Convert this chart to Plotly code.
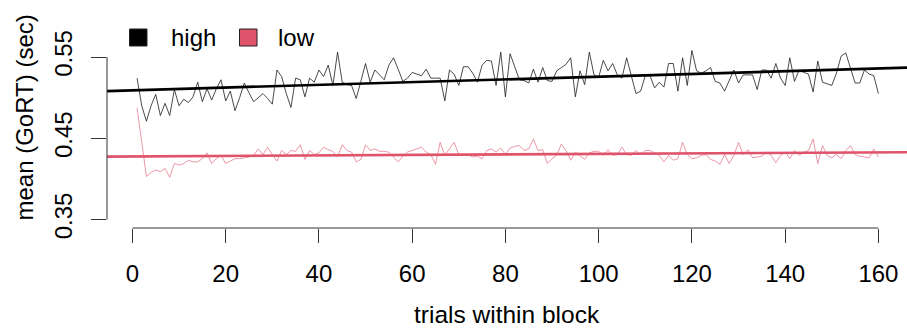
import plotly.graph_objects as go

# ---- data ----
trials = list(range(1, 161))

high_rt = [
    0.524, 0.490, 0.471, 0.490, 0.504, 0.478, 0.493, 0.478, 0.510, 0.490,
    0.498, 0.494, 0.501, 0.519, 0.495, 0.511, 0.497, 0.511, 0.522, 0.496,
    0.508, 0.484, 0.500, 0.518, 0.506, 0.495, 0.500, 0.505, 0.499, 0.492,
    0.534, 0.526, 0.505, 0.488, 0.524, 0.522, 0.501, 0.524, 0.519, 0.534,
    0.526, 0.540, 0.515, 0.556, 0.519, 0.516, 0.515, 0.499, 0.520, 0.542,
    0.519, 0.534, 0.528, 0.522, 0.540, 0.549, 0.535, 0.520, 0.524, 0.531,
    0.529, 0.527, 0.535, 0.524, 0.524, 0.524, 0.496, 0.534, 0.529, 0.515,
    0.538, 0.538, 0.530, 0.519, 0.540, 0.546, 0.545, 0.515, 0.556, 0.501,
    0.554, 0.538, 0.522, 0.521, 0.518, 0.535, 0.519, 0.537, 0.521, 0.520,
    0.533, 0.537, 0.541, 0.549, 0.501, 0.533, 0.516, 0.556, 0.528, 0.525,
    0.546, 0.533, 0.542, 0.528, 0.524, 0.549, 0.526, 0.505, 0.508, 0.527,
    0.527, 0.512, 0.519, 0.513, 0.542, 0.542, 0.508, 0.549, 0.515, 0.558,
    0.533, 0.530, 0.533, 0.537, 0.520, 0.518, 0.508, 0.520, 0.534, 0.518,
    0.528, 0.528, 0.528, 0.510, 0.534, 0.534, 0.524, 0.542, 0.524, 0.515,
    0.549, 0.520, 0.534, 0.531, 0.529, 0.507, 0.545, 0.519, 0.517, 0.515,
    0.530, 0.551, 0.555, 0.537, 0.518, 0.518, 0.534, 0.529, 0.527, 0.505,
]

low_rt = [
    0.4875, 0.445, 0.403, 0.408, 0.411, 0.409, 0.413, 0.402, 0.419, 0.417,
    0.419, 0.423, 0.421, 0.421, 0.425, 0.432, 0.419, 0.425, 0.429, 0.419,
    0.422, 0.425, 0.425, 0.426, 0.427, 0.429, 0.437, 0.430, 0.439, 0.430,
    0.422, 0.435, 0.430, 0.435, 0.434, 0.442, 0.424, 0.435, 0.430, 0.432,
    0.439, 0.436, 0.434, 0.427, 0.442, 0.435, 0.433, 0.421, 0.424, 0.442,
    0.435, 0.437, 0.434, 0.434, 0.433, 0.427, 0.421, 0.428, 0.433, 0.435,
    0.437, 0.439, 0.433, 0.430, 0.418, 0.445, 0.429, 0.437, 0.445, 0.430,
    0.430, 0.430, 0.427, 0.428, 0.425, 0.435, 0.437, 0.433, 0.438, 0.430,
    0.438, 0.440, 0.441, 0.435, 0.437, 0.449, 0.435, 0.436, 0.419, 0.425,
    0.429, 0.443, 0.435, 0.423, 0.433, 0.429, 0.424, 0.432, 0.434, 0.434,
    0.429, 0.436, 0.429, 0.430, 0.439, 0.430, 0.429, 0.435, 0.430, 0.435,
    0.435, 0.432, 0.429, 0.421, 0.429, 0.423, 0.425, 0.445, 0.430, 0.425,
    0.426, 0.429, 0.430, 0.424, 0.422, 0.418, 0.430, 0.419, 0.429, 0.445,
    0.430, 0.436, 0.426, 0.427, 0.428, 0.433, 0.429, 0.420, 0.429, 0.433,
    0.425, 0.435, 0.429, 0.433, 0.435, 0.449, 0.419, 0.441, 0.429, 0.426,
    0.430, 0.425, 0.435, 0.441, 0.430, 0.428, 0.427, 0.426, 0.437, 0.427,
]

# fitted trend lines (intercept, slope)
high_fit = (0.5090, 0.000168)
low_fit = (0.4277, 0.000031)

x_ticks = [0, 20, 40, 60, 80, 100, 120, 140, 160]
x_tick_labels = ["0", "20", "40", "60", "80", "100", "120", "140", "160"]
y_ticks = [0.35, 0.45, 0.55]
y_tick_labels = ["0.35", "0.45", "0.55"]

series_names = ["high", "low"]

# ---- style ----
FONT = "Liberation Sans, Arial, sans-serif"
BLACK = "#000000"
RED = "#DF536B"
W, H = 907, 329
ML, MR, MT, MB = 107, 0, 0, 101
PW, PH = W - ML - MR, H - MT - MB

x_range = [-5.45, -5.45 + PW / 4.6625]
y_lo = 0.35 - 8.4 / 813
y_range = [y_lo, y_lo + PH / 813]

fig = go.Figure()

fig.add_trace(go.Scatter(x=trials, y=high_rt, mode="lines", name="high",
                         line=dict(color="rgba(30,30,30,0.8)", width=1),
                         showlegend=False))
fig.add_trace(go.Scatter(x=trials, y=low_rt, mode="lines", name="low",
                         line=dict(color="rgba(232,125,145,0.8)", width=1),
                         showlegend=False))

fx = [x_range[0], x_range[1]]
fig.add_trace(go.Scatter(x=fx, y=[high_fit[0] + high_fit[1] * v for v in fx],
                         mode="lines", line=dict(color=BLACK, width=2.7),
                         showlegend=False, hoverinfo="skip"))
fig.add_trace(go.Scatter(x=fx, y=[low_fit[0] + low_fit[1] * v for v in fx],
                         mode="lines", line=dict(color=RED, width=2.7),
                         showlegend=False, hoverinfo="skip"))

shapes = []
# axis lines spanning first to last tick (R style)
shapes.append(dict(type="line", xref="x", yref="paper", x0=x_ticks[0], x1=x_ticks[-1],
                   y0=0, y1=0, line=dict(color="#333333", width=1)))
shapes.append(dict(type="line", xref="paper", yref="y", x0=0, x1=0,
                   y0=y_ticks[0], y1=y_ticks[-1], line=dict(color="#333333", width=1)))


def px_to_paper_x(px):
    return (px - ML) / PW


def px_to_paper_y(py):
    return (MT + PH - py) / PH


annotations = []
legend_items = [(series_names[0], BLACK, 129.5, 169), (series_names[1], RED, 239.5, 276)]
for name, col, sx, tx in legend_items:
    shapes.append(dict(type="rect", xref="paper", yref="paper",
                       x0=px_to_paper_x(sx), x1=px_to_paper_x(sx + 17.5),
                       y0=px_to_paper_y(46), y1=px_to_paper_y(29),
                       fillcolor=col, line=dict(color="#222222", width=1)))
    annotations.append(dict(text=name, xref="paper", yref="paper",
                            x=px_to_paper_x(tx), y=px_to_paper_y(37.5),
                            xanchor="left", yanchor="middle", showarrow=False,
                            font=dict(family=FONT, size=24, color="black")))

annotations.append(dict(text="trials within block", xref="paper", yref="paper",
                        x=0.5, y=0, yshift=-(314.5 - (MT + PH)), xanchor="center",
                        yanchor="middle", showarrow=False, borderpad=0,
                        font=dict(family=FONT, size=24.5, color="black")))
annotations.append(dict(text="mean (GoRT) (sec)", xref="paper", yref="paper",
                        x=0, xshift=24 - ML, y=px_to_paper_y(117.5), xanchor="center",
                        yanchor="middle", textangle=-90, showarrow=False,
                        font=dict(family=FONT, size=24, color="black")))

fig.update_layout(
    width=W, height=H,
    margin=dict(l=ML, r=MR, t=MT, b=MB, pad=0),
    paper_bgcolor="white", plot_bgcolor="white",
    font=dict(family=FONT, size=24, color="black"),
    showlegend=False,
    shapes=shapes,
    annotations=annotations,
    xaxis=dict(range=x_range, showgrid=False, zeroline=False, showline=False,
               tickmode="array", tickvals=x_ticks, ticktext=x_tick_labels,
               ticks="outside", ticklen=14, tickwidth=1, tickcolor="#333333",
               ticklabelstandoff=10,
               tickfont=dict(family=FONT, size=24, color="black")),
    yaxis=dict(range=y_range, showgrid=False, zeroline=False, showline=False,
               tickmode="array", tickvals=y_ticks, ticktext=y_tick_labels,
               ticks="outside", ticklen=15, tickwidth=1, tickcolor="#333333",
               tickangle=-90, ticklabelstandoff=9,
               tickfont=dict(family=FONT, size=24, color="black")),
)

fig.write_html("out.html")
